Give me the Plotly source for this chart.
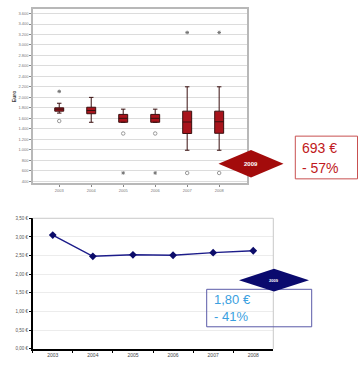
import plotly.graph_objects as go

W, H = 358, 365

# ---- data: top boxplot (Euro) ----
years = ["2003", "2004", "2005", "2006", "2007", "2008"]
q1 = [1737, 1688, 1525, 1525, 1311, 1315]
median = [1775, 1750, 1600, 1600, 1530, 1535]
q3 = [1800, 1812, 1675, 1675, 1737, 1737]
lowerfence = [1700, 1525, 1525, 1525, 991, 991]
upperfence = [1888, 2000, 1775, 1775, 2202, 2202]
circle_x = ["2003", "2005", "2006", "2007", "2008"]
circle_y = [1549, 1311, 1311, 557, 557]
star_x = ["2003", "2005", "2006", "2007", "2008"]
star_y = [2114, 558, 558, 3238, 3238]
top_tickvals = list(range(400, 3601, 200))
top_ticktext = ["400", "600", "800", "1.000", "1.200", "1.400", "1.600", "1.800", "2.000",
                "2.200", "2.400", "2.600", "2.800", "3.000", "3.200", "3.400", "3.600"]

# ---- data: bottom line chart ----
line_values = [3.05, 2.48, 2.52, 2.51, 2.58, 2.63]
bot_tickvals = [0, 0.5, 1.0, 1.5, 2.0, 2.5, 3.0, 3.5]
bot_ticktext = ["0,00 €", "0,50 €", "1,00 €", "1,50 €", "2,00 €", "2,50 €", "3,00 €", "3,50 €"]

# ---- annotation texts ----
red_label = ["693 €", "- 57%"]
blue_label = ["1,80 €", "- 41%"]
badge_text = "2009"


def px(x):
    return x / W


def py(y):
    return 1 - y / H


FONT = "Liberation Sans, Arial, sans-serif"

fig = go.Figure()

fig.add_trace(go.Box(
    x=years, q1=q1, median=median, q3=q3,
    lowerfence=lowerfence, upperfence=upperfence,
    boxpoints=False, width=0.28, whiskerwidth=0.5,
    fillcolor="#a8141c", line=dict(color="#3a1010", width=1),
    xaxis="x", yaxis="y", showlegend=False, hoverinfo="skip",
))
fig.add_trace(go.Scatter(
    x=circle_x, y=circle_y, mode="markers",
    marker=dict(symbol="circle-open", size=3.5, color="#999999", line=dict(width=1)),
    xaxis="x", yaxis="y", showlegend=False,
))
fig.add_trace(go.Scatter(
    x=star_x, y=star_y, mode="markers",
    marker=dict(symbol="asterisk-open", size=3, color="#777777", line=dict(width=1, color="#777777")),
    xaxis="x", yaxis="y", showlegend=False,
))

fig.add_trace(go.Scatter(
    x=years, y=line_values, mode="lines+markers",
    line=dict(color="#1c1c8a", width=1.5),
    marker=dict(symbol="diamond", size=6, color="#0c0c6a"),
    xaxis="x2", yaxis="y2", showlegend=False,
))

tiny = dict(family=FONT, size=4, color="#777777")

fig.update_layout(
    width=W, height=H,
    margin=dict(l=0, r=0, t=0, b=0),
    paper_bgcolor="white", plot_bgcolor="white",
    font=dict(family=FONT),
    xaxis=dict(
        domain=[px(33), px(247)], type="category", range=[-0.82, 5.87],
        showgrid=False, showline=True, linecolor="#b8b8b8", linewidth=1.5, mirror=True,
        ticks="outside", ticklen=2, tickcolor="#888888",
        tickfont=tiny, anchor="y",
    ),
    yaxis=dict(
        domain=[py(184), py(7.5)], range=[357, 3679],
        tickvals=top_tickvals, ticktext=top_ticktext,
        showgrid=True, gridcolor="#dcdcdc", gridwidth=1,
        showline=True, linecolor="#b8b8b8", linewidth=1.5, mirror=True,
        ticks="outside", ticklen=2, tickcolor="#888888",
        tickfont=tiny, anchor="x", zeroline=False,
        title=dict(text="<b>Euro</b>", font=dict(family=FONT, size=5, color="#444444"), standoff=2),
    ),
    xaxis2=dict(
        domain=[px(32.7), px(273.3)], type="category", range=[-0.5, 5.5],
        showgrid=False, showline=True, linecolor="#000000", linewidth=1.5,
        ticks="outside", tickson="boundaries", ticklen=2, tickcolor="#000000",
        tickfont=dict(family=FONT, size=5, color="#444444"), anchor="y2",
    ),
    yaxis2=dict(
        domain=[py(351.7), py(219.3)], range=[0, 3.5],
        tickvals=bot_tickvals, ticktext=bot_ticktext,
        showgrid=True, gridcolor="#ececec", gridwidth=1,
        showline=True, linecolor="#000000", linewidth=1.5,
        ticks="outside", ticklen=2, tickcolor="#000000",
        tickfont=dict(family=FONT, size=4.5, color="#555555"), anchor="x2", zeroline=False,
    ),
)

shapes = []
# bottom chart top / right frame
shapes.append(dict(type="line", xref="x2 domain", yref="y2 domain", x0=0, x1=1, y0=1, y1=1,
                   line=dict(color="#c8c8c8", width=1)))
shapes.append(dict(type="line", xref="x2 domain", yref="y2 domain", x0=1, x1=1, y0=0, y1=1,
                   line=dict(color="#c8c8c8", width=1)))


def diamond(cx, cy, hw, hh, color):
    path = (f"M {px(cx - hw)} {py(cy)} L {px(cx)} {py(cy - hh)} "
            f"L {px(cx + hw)} {py(cy)} L {px(cx)} {py(cy + hh)} Z")
    return dict(type="path", xref="paper", yref="paper", path=path,
                fillcolor=color, line=dict(width=0), layer="above")


shapes.append(diamond(251, 164, 32.5, 14, "#a30b0b"))
shapes.append(dict(type="rect", xref="paper", yref="paper",
                   x0=px(295.3), x1=px(357.5), y0=py(179.3), y1=py(136),
                   line=dict(color="#c85050", width=1), fillcolor="rgba(0,0,0,0)", layer="above"))
shapes.append(dict(type="rect", xref="paper", yref="paper",
                   x0=px(206.7), x1=px(311.7), y0=py(329.3), y1=py(291.3),
                   line=dict(color="#5a5aa8", width=1), fillcolor="rgba(0,0,0,0)", layer="above"))
shapes.append(diamond(274, 282, 35, 11.5, "#0a0a6e"))
fig.update_layout(shapes=shapes)

ann = []
ann.append(dict(x=px(251), y=py(164), xref="paper", yref="paper", text=f"<b>{badge_text}</b>",
                showarrow=False, font=dict(family=FONT, size=6, color="white"),
                xanchor="center", yanchor="middle"))
ann.append(dict(x=px(274), y=py(282), xref="paper", yref="paper", text=f"<b>{badge_text}</b>",
                showarrow=False, font=dict(family=FONT, size=4, color="white"),
                xanchor="center", yanchor="middle"))
ann.append(dict(x=px(300), y=py(148), xref="paper", yref="paper", text=red_label[0],
                showarrow=False, font=dict(family=FONT, size=14, color="#c01820"),
                xanchor="left", yanchor="middle"))
ann.append(dict(x=px(300), y=py(168.5), xref="paper", yref="paper", text=red_label[1],
                showarrow=False, font=dict(family=FONT, size=14, color="#c01820"),
                xanchor="left", yanchor="middle"))
ann.append(dict(x=px(212), y=py(301.5), xref="paper", yref="paper", text=blue_label[0],
                showarrow=False, font=dict(family=FONT, size=13, color="#3aa0e0"),
                xanchor="left", yanchor="middle"))
ann.append(dict(x=px(212), y=py(319), xref="paper", yref="paper", text=blue_label[1],
                showarrow=False, font=dict(family=FONT, size=13, color="#3aa0e0"),
                xanchor="left", yanchor="middle"))
fig.update_layout(annotations=ann)

fig.write_html("out.html")
